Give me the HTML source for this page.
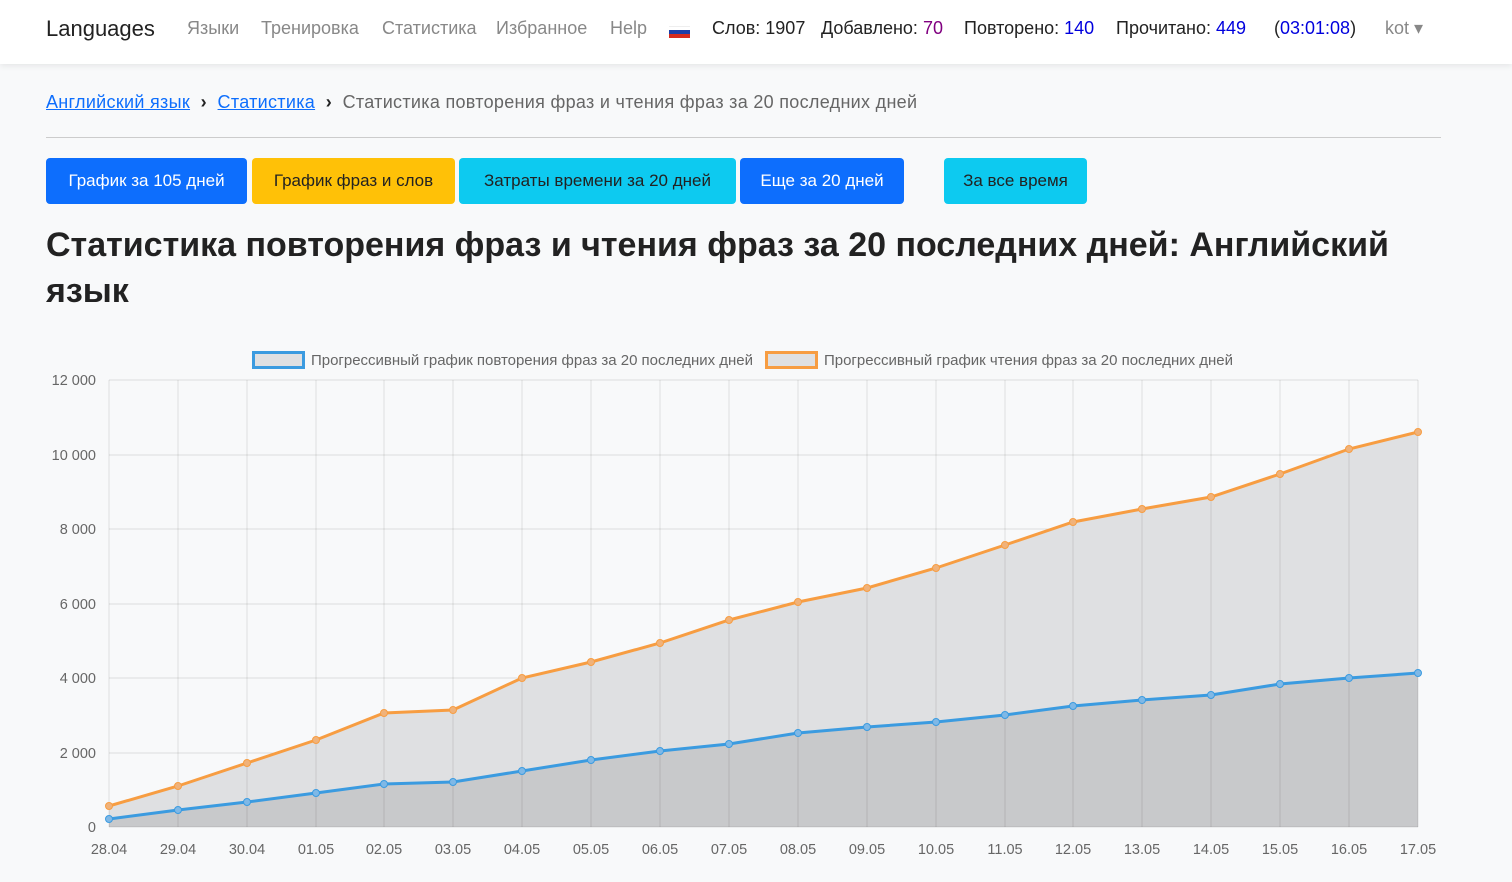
<!DOCTYPE html>
<html><head><meta charset="utf-8"><style>
body{margin:0;width:1512px;height:882px;background:#f8f9fa;font-family:"Liberation Sans",sans-serif;overflow:hidden;position:relative}
.nav{position:absolute;left:0;top:0;width:1512px;height:64px;background:#fff;box-shadow:0 2px 6px rgba(0,0,0,.08)}
.nav span{position:absolute;top:18px;font-size:18px;color:#888;white-space:nowrap}
.a{position:absolute;white-space:nowrap}
.btn{position:absolute;top:158px;height:46px;line-height:46px;border-radius:4px;font-size:17px;text-align:center}
</style></head><body>
<div class="nav">
<span style="left:46px;top:16px;font-size:22px;color:#222">Languages</span>
<span style="left:187px">Языки</span>
<span style="left:261px">Тренировка</span>
<span style="left:382px">Статистика</span>
<span style="left:496px">Избранное</span>
<span style="left:610px">Help</span>
<div style="position:absolute;left:669px;top:26px;width:21px;height:4px;background:#fff;border-top:1px solid #eee"></div>
<div style="position:absolute;left:669px;top:30px;width:21px;height:4px;background:#1c3fa8"></div>
<div style="position:absolute;left:669px;top:34px;width:21px;height:4px;background:#d52b1e"></div>
<span style="left:712px;color:#222">Слов: <b style="font-weight:normal;color:#222">1907</b></span>
<span style="left:821px;color:#222">Добавлено: <b style="font-weight:normal;color:#800080">70</b></span>
<span style="left:964px;color:#222">Повторено: <b style="font-weight:normal;color:#0000dd">140</b></span>
<span style="left:1116px;color:#222">Прочитано: <b style="font-weight:normal;color:#0000dd">449</b></span>
<span style="left:1274px;color:#222">(<b style="font-weight:normal;color:#0000dd">03:01:08</b>)</span>
<span style="left:1385px">kot ▾</span>
</div>
<div class="a" style="left:46px;top:92px;font-size:18px;letter-spacing:0.3px;color:#666"><u style="color:#0d6efd">Английский язык</u> &nbsp;<b style="color:#222">›</b>&nbsp; <u style="color:#0d6efd">Статистика</u> &nbsp;<b style="color:#222">›</b>&nbsp; Статистика повторения фраз и чтения фраз за 20 последних дней</div>
<div style="position:absolute;left:46px;top:137px;width:1395px;height:1px;background:#ccc"></div>
<div class="btn" style="left:46px;width:201px;background:#0d6efd;color:#fff">График за 105 дней</div>
<div class="btn" style="left:252px;width:203px;background:#ffc107;color:#222">График фраз и слов</div>
<div class="btn" style="left:459px;width:277px;background:#0dcaf0;color:#222">Затраты времени за 20 дней</div>
<div class="btn" style="left:740px;width:164px;background:#0d6efd;color:#fff">Еще за 20 дней</div>
<div class="btn" style="left:944px;width:143px;background:#0dcaf0;color:#222">За все время</div>
<div class="a" style="left:46px;top:222px;font-size:34px;font-weight:bold;line-height:46px;color:#222;width:1400px;white-space:normal">Статистика повторения фраз и чтения фраз за 20 последних дней: Английский язык</div>
<svg style="position:absolute;left:0;top:0" width="1512" height="882" font-family="Liberation Sans, sans-serif" font-size="14" fill="#666">
<g stroke="#ddd" stroke-width="1">
<line x1="109" y1="380" x2="1418" y2="380"/><line x1="109" y1="455" x2="1418" y2="455"/><line x1="109" y1="529" x2="1418" y2="529"/><line x1="109" y1="604" x2="1418" y2="604"/><line x1="109" y1="678" x2="1418" y2="678"/><line x1="109" y1="753" x2="1418" y2="753"/>
</g>
<path d="M109,806 L178,786 L247,763 L316,740 L384,713 L453,710 L522,678 L591,662 L660,643 L729,620 L798,602 L867,588 L936,568 L1005,545 L1073,522 L1142,509 L1211,497 L1280,474 L1349,449 L1418,432 L1418,827 L109,827Z" fill="#dfe0e2"/>
<path d="M109,819 L178,810 L247,802 L316,793 L384,784 L453,782 L522,771 L591,760 L660,751 L729,744 L798,733 L867,727 L936,722 L1005,715 L1073,706 L1142,700 L1211,695 L1280,684 L1349,678 L1418,673 L1418,827 L109,827Z" fill="#c8c9cb"/>
<g stroke="#000" stroke-opacity=".1" stroke-width="1">
<line x1="109" y1="380" x2="109" y2="827"/><line x1="178" y1="380" x2="178" y2="827"/><line x1="247" y1="380" x2="247" y2="827"/><line x1="316" y1="380" x2="316" y2="827"/><line x1="384" y1="380" x2="384" y2="827"/><line x1="453" y1="380" x2="453" y2="827"/><line x1="522" y1="380" x2="522" y2="827"/><line x1="591" y1="380" x2="591" y2="827"/><line x1="660" y1="380" x2="660" y2="827"/><line x1="729" y1="380" x2="729" y2="827"/><line x1="798" y1="380" x2="798" y2="827"/><line x1="867" y1="380" x2="867" y2="827"/><line x1="936" y1="380" x2="936" y2="827"/><line x1="1005" y1="380" x2="1005" y2="827"/><line x1="1073" y1="380" x2="1073" y2="827"/><line x1="1142" y1="380" x2="1142" y2="827"/><line x1="1211" y1="380" x2="1211" y2="827"/><line x1="1280" y1="380" x2="1280" y2="827"/><line x1="1349" y1="380" x2="1349" y2="827"/><line x1="1418" y1="380" x2="1418" y2="827"/>
<line x1="109" y1="827" x2="1418" y2="827"/>
</g>
<polyline points="109,806 178,786 247,763 316,740 384,713 453,710 522,678 591,662 660,643 729,620 798,602 867,588 936,568 1005,545 1073,522 1142,509 1211,497 1280,474 1349,449 1418,432" fill="none" stroke="#f79d42" stroke-width="3"/>
<polyline points="109,819 178,810 247,802 316,793 384,784 453,782 522,771 591,760 660,751 729,744 798,733 867,727 936,722 1005,715 1073,706 1142,700 1211,695 1280,684 1349,678 1418,673" fill="none" stroke="#3b9be0" stroke-width="3"/>
<g fill="#f0b27a" stroke="#f79d42" stroke-width="1"><circle cx="109" cy="806" r="3.5"/><circle cx="178" cy="786" r="3.5"/><circle cx="247" cy="763" r="3.5"/><circle cx="316" cy="740" r="3.5"/><circle cx="384" cy="713" r="3.5"/><circle cx="453" cy="710" r="3.5"/><circle cx="522" cy="678" r="3.5"/><circle cx="591" cy="662" r="3.5"/><circle cx="660" cy="643" r="3.5"/><circle cx="729" cy="620" r="3.5"/><circle cx="798" cy="602" r="3.5"/><circle cx="867" cy="588" r="3.5"/><circle cx="936" cy="568" r="3.5"/><circle cx="1005" cy="545" r="3.5"/><circle cx="1073" cy="522" r="3.5"/><circle cx="1142" cy="509" r="3.5"/><circle cx="1211" cy="497" r="3.5"/><circle cx="1280" cy="474" r="3.5"/><circle cx="1349" cy="449" r="3.5"/><circle cx="1418" cy="432" r="3.5"/></g>
<g fill="#7fb8e6" stroke="#3b9be0" stroke-width="1"><circle cx="109" cy="819" r="3.5"/><circle cx="178" cy="810" r="3.5"/><circle cx="247" cy="802" r="3.5"/><circle cx="316" cy="793" r="3.5"/><circle cx="384" cy="784" r="3.5"/><circle cx="453" cy="782" r="3.5"/><circle cx="522" cy="771" r="3.5"/><circle cx="591" cy="760" r="3.5"/><circle cx="660" cy="751" r="3.5"/><circle cx="729" cy="744" r="3.5"/><circle cx="798" cy="733" r="3.5"/><circle cx="867" cy="727" r="3.5"/><circle cx="936" cy="722" r="3.5"/><circle cx="1005" cy="715" r="3.5"/><circle cx="1073" cy="706" r="3.5"/><circle cx="1142" cy="700" r="3.5"/><circle cx="1211" cy="695" r="3.5"/><circle cx="1280" cy="684" r="3.5"/><circle cx="1349" cy="678" r="3.5"/><circle cx="1418" cy="673" r="3.5"/></g>
<g text-anchor="end" font-size="14.5"><text x="96" y="385">12 000</text><text x="96" y="460">10 000</text><text x="96" y="534">8 000</text><text x="96" y="609">6 000</text><text x="96" y="683">4 000</text><text x="96" y="758">2 000</text><text x="96" y="832">0</text></g>
<g text-anchor="middle" font-size="14.5"><text x="109" y="854">28.04</text><text x="178" y="854">29.04</text><text x="247" y="854">30.04</text><text x="316" y="854">01.05</text><text x="384" y="854">02.05</text><text x="453" y="854">03.05</text><text x="522" y="854">04.05</text><text x="591" y="854">05.05</text><text x="660" y="854">06.05</text><text x="729" y="854">07.05</text><text x="798" y="854">08.05</text><text x="867" y="854">09.05</text><text x="936" y="854">10.05</text><text x="1005" y="854">11.05</text><text x="1073" y="854">12.05</text><text x="1142" y="854">13.05</text><text x="1211" y="854">14.05</text><text x="1280" y="854">15.05</text><text x="1349" y="854">16.05</text><text x="1418" y="854">17.05</text></g>
<rect x="253.5" y="352.5" width="50" height="15" fill="#dfe0e2" stroke="#3b9be0" stroke-width="3"/>
<text x="311" y="365" font-size="15" textLength="442">Прогрессивный график повторения фраз за 20 последних дней</text>
<rect x="766.5" y="352.5" width="50" height="15" fill="#dfe0e2" stroke="#f79d42" stroke-width="3"/>
<text x="824" y="365" font-size="15" textLength="409">Прогрессивный график чтения фраз за 20 последних дней</text>
</svg>
</body></html>
